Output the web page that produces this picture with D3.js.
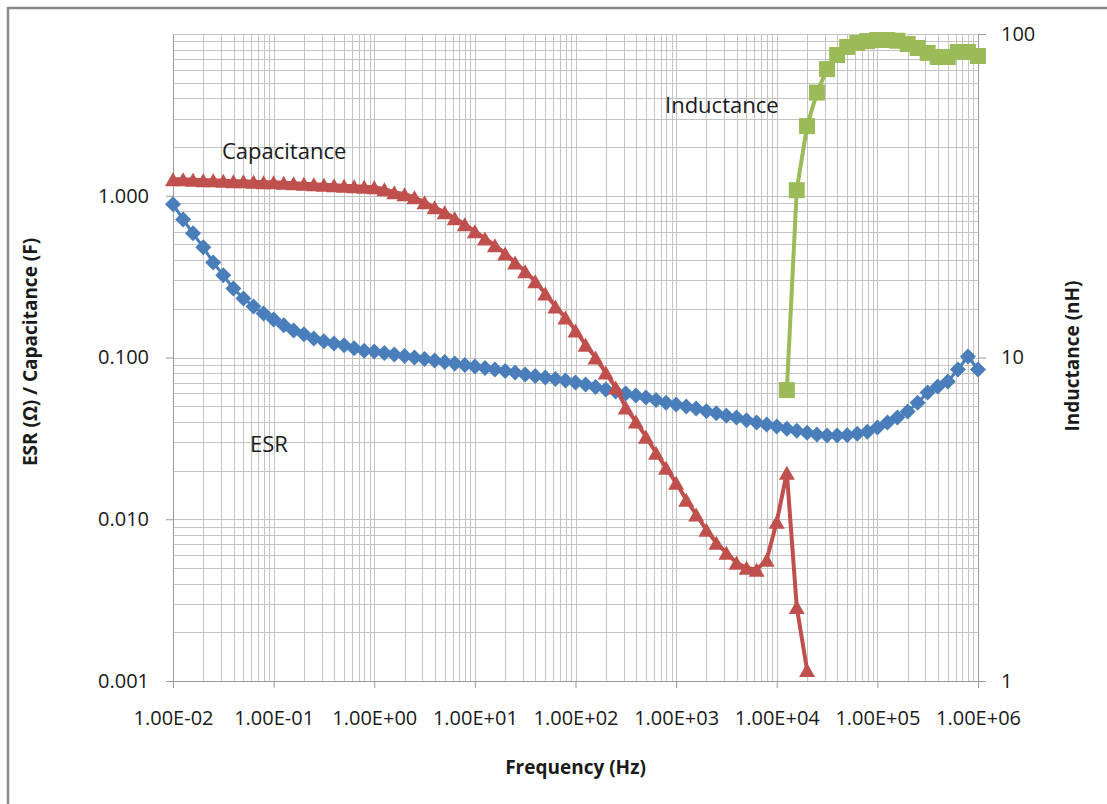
<!DOCTYPE html>
<html>
<head>
<meta charset="utf-8">
<script src="https://cdn.jsdelivr.net/npm/d3@7"></script>
<style>
  body { margin: 0; background: #fff; }
  text { font-family: "Open Sans", "Noto Sans", sans-serif; fill: #1a1a1a; }
</style>
</head>
<body>
<script>
const width = 1107, height = 804;
const margin = {top: 34, right: 129, bottom: 123, left: 173};

// frequency points (Hz), 10 per decade
const freq = [
  1e-2, 1.26e-2, 1.58e-2, 2e-2, 2.51e-2, 3.16e-2, 3.98e-2, 5.01e-2, 6.31e-2, 7.94e-2,
  1e-1, 1.26e-1, 1.58e-1, 2e-1, 2.51e-1, 3.16e-1, 3.98e-1, 5.01e-1, 6.31e-1, 7.94e-1,
  1e0, 1.26e0, 1.58e0, 2e0, 2.51e0, 3.16e0, 3.98e0, 5.01e0, 6.31e0, 7.94e0,
  1e1, 1.26e1, 1.58e1, 2e1, 2.51e1, 3.16e1, 3.98e1, 5.01e1, 6.31e1, 7.94e1,
  1e2, 1.26e2, 1.58e2, 2e2, 2.51e2, 3.16e2, 3.98e2, 5.01e2, 6.31e2, 7.94e2,
  1e3, 1.26e3, 1.58e3, 2e3, 2.51e3, 3.16e3, 3.98e3, 5.01e3, 6.31e3, 7.94e3,
  1e4, 1.26e4, 1.58e4, 2e4, 2.51e4, 3.16e4, 3.98e4, 5.01e4, 6.31e4, 7.94e4,
  1e5, 1.26e5, 1.58e5, 2e5, 2.51e5, 3.16e5, 3.98e5, 5.01e5, 6.31e5, 7.94e5,
  1e6
];

// ESR (ohm)
const esr = [
  0.885, 0.714, 0.586, 0.480, 0.387, 0.322, 0.267, 0.232, 0.207, 0.187,
  0.172, 0.158, 0.147, 0.139, 0.131, 0.126, 0.122, 0.119, 0.114, 0.110,
  0.109, 0.1066, 0.1043, 0.1021, 0.1000, 0.0979, 0.0958, 0.0938, 0.0918, 0.0899,
  0.0880, 0.0861, 0.0843, 0.0825, 0.0807, 0.0785, 0.0768, 0.0752, 0.0736, 0.0720,
  0.0700, 0.0680, 0.0657, 0.0633, 0.0616, 0.0598, 0.0582, 0.0565, 0.0546, 0.0526,
  0.0512, 0.0497, 0.0483, 0.0466, 0.0453, 0.0437, 0.0425, 0.0410, 0.0396, 0.0385,
  0.0374, 0.0363, 0.0353, 0.0343, 0.0334, 0.0329, 0.0329, 0.0331, 0.0338, 0.0348,
  0.0369, 0.0396, 0.0425, 0.0463, 0.0526, 0.0607, 0.0661, 0.0710, 0.0843, 0.1014,
  0.0843
];

// capacitance (F), first 64 frequencies
const capacitance = [
  1.265, 1.265, 1.256, 1.247, 1.247, 1.238, 1.230, 1.230, 1.221, 1.212,
  1.212, 1.203, 1.195, 1.187, 1.178, 1.170, 1.161, 1.153, 1.145, 1.137,
  1.129, 1.097, 1.051, 1.021, 0.979, 0.912, 0.849, 0.790, 0.726, 0.666,
  0.603, 0.545, 0.494, 0.440, 0.387, 0.341, 0.296, 0.249, 0.207, 0.177,
  0.147, 0.120, 0.100, 0.0807, 0.0652, 0.0490, 0.0402, 0.0324, 0.0258, 0.0208,
  0.0168, 0.0132, 0.0107, 0.00861, 0.00715, 0.00620, 0.00538, 0.00501, 0.00487, 0.00561,
  0.00966, 0.0194, 0.00287, 0.00117
];

// inductance (nH), last 20 frequencies
const inductance = [
  7.93, 32.9, 51.9, 65.9, 77.9, 86.1, 91.2, 93.8, 95.1, 95.8,
  95.8, 95.3, 93.1, 90.5, 87.4, 84.9, 84.9, 88.0, 88.0, 85.5
];
const indStart = 61;

const xTicks = [1e-2, 1e-1, 1e0, 1e1, 1e2, 1e3, 1e4, 1e5, 1e6];
const xTickLabels = ["1.00E-02", "1.00E-01", "1.00E+00", "1.00E+01", "1.00E+02",
                     "1.00E+03", "1.00E+04", "1.00E+05", "1.00E+06"];
const yTicks = [0.001, 0.01, 0.1, 1];
const yTickLabels = ["0.001", "0.010", "0.100", "1.000"];
const y2Ticks = [1, 10, 100];
const y2TickLabels = ["1", "10", "100"];

const x = d3.scaleLog().domain([1e-2, 1e6]).range([margin.left, width - margin.right]);
const y = d3.scaleLog().domain([0.001, 10]).range([height - margin.bottom, margin.top]);
const y2 = d3.scaleLog().domain([1, 100]).range([height - margin.bottom, margin.top]);

const svg = d3.select("body").append("svg")
  .attr("width", width)
  .attr("height", height);

// chart frame (top and left edges visible)
svg.append("path")
  .attr("d", "M8," + height + "L8,8L" + width + ",8")
  .attr("fill", "none")
  .attr("stroke", "#8a8a8a")
  .attr("stroke-width", 2.5);

// gridlines
const grid = svg.append("g").attr("stroke", "#c4c4c4").attr("stroke-width", 1);
grid.selectAll(".vx")
  .data(x.ticks())
  .enter().append("line")
  .attr("x1", d => Math.round(x(d)) + 0.5).attr("x2", d => Math.round(x(d)) + 0.5)
  .attr("y1", margin.top).attr("y2", height - margin.bottom);
grid.selectAll(".hy")
  .data(y.ticks())
  .enter().append("line")
  .attr("y1", d => Math.round(y(d)) + 0.5).attr("y2", d => Math.round(y(d)) + 0.5)
  .attr("x1", margin.left).attr("x2", width - margin.right);

// axes
const xAxis = d3.axisBottom(x)
  .tickValues(xTicks)
  .tickFormat((d, i) => xTickLabels[i])
  .tickSize(7).tickSizeOuter(0);
const gx = svg.append("g")
  .attr("transform", "translate(0," + (height - margin.bottom) + ")")
  .call(xAxis);
gx.selectAll("text").attr("y", 37).attr("dy", "0.35em");

const yAxis = d3.axisLeft(y)
  .tickValues(yTicks)
  .tickFormat((d, i) => yTickLabels[i])
  .tickSize(7).tickSizeOuter(0).tickPadding(17);
const gy = svg.append("g")
  .attr("transform", "translate(" + margin.left + ",0)")
  .call(yAxis);

const y2Axis = d3.axisRight(y2)
  .tickValues(y2Ticks)
  .tickFormat((d, i) => y2TickLabels[i])
  .tickSize(8).tickSizeOuter(0).tickPadding(15);
const gy2 = svg.append("g")
  .attr("transform", "translate(" + (width - margin.right) + ",0)")
  .call(y2Axis);

[gx, gy, gy2].forEach(g => {
  g.selectAll("path, line").attr("stroke", "#9a9a9a");
  g.selectAll("text").style("font-size", "20px").attr("fill", "#1a1a1a");
});

// series
const diamond = "M0,-8L8,0L0,8L-8,0Z";
const triangle = "M0,-7L8,7L-8,7Z";
const square = "M-8,-8H8V8H-8Z";

const esrData = esr.map((v, i) => ({f: freq[i], v: v}));
const capData = capacitance.map((v, i) => ({f: freq[i], v: v}));
const indData = inductance.map((v, i) => ({f: freq[indStart + i], v: v}));

function drawSeries(data, yScale, color, lineW, shape) {
  const line = d3.line().x(d => x(d.f)).y(d => yScale(d.v));
  svg.append("path")
    .datum(data)
    .attr("d", line)
    .attr("fill", "none")
    .attr("stroke", color)
    .attr("stroke-width", lineW)
    .attr("stroke-linejoin", "round");
  svg.append("g")
    .selectAll("path")
    .data(data)
    .enter().append("path")
    .attr("d", shape)
    .attr("transform", d => "translate(" + x(d.f) + "," + yScale(d.v) + ")")
    .attr("fill", color);
}

drawSeries(esrData, y, "#4a7ebb", 3, diamond);
drawSeries(capData, y, "#c0504d", 4, triangle);
drawSeries(indData, y2, "#9bbb59", 4, square);

// series labels
svg.append("text").attr("x", 222).attr("y", 151).attr("dy", "0.35em")
  .style("font-size", "22px").text("Capacitance");
svg.append("text").attr("x", 665).attr("y", 105).attr("dy", "0.35em")
  .style("font-size", "22px").text("Inductance");
svg.append("text").attr("x", 250).attr("y", 444).attr("dy", "0.35em")
  .style("font-size", "22px").text("ESR");

// axis titles
svg.append("text")
  .attr("x", (margin.left + width - margin.right) / 2).attr("y", 767).attr("dy", "0.35em")
  .attr("text-anchor", "middle")
  .style("font-size", "19px").style("font-weight", "bold")
  .text("Frequency (Hz)");
svg.append("text")
  .attr("transform", "translate(30,352) rotate(-90)")
  .attr("dy", "0.35em")
  .attr("text-anchor", "middle")
  .style("font-size", "19px").style("font-weight", "bold")
  .text("ESR (Ω) / Capacitance (F)");
svg.append("text")
  .attr("transform", "translate(1072,356) rotate(-90)")
  .attr("dy", "0.35em")
  .attr("text-anchor", "middle")
  .style("font-size", "19px").style("font-weight", "bold")
  .text("Inductance (nH)");
</script>
</body>
</html>
